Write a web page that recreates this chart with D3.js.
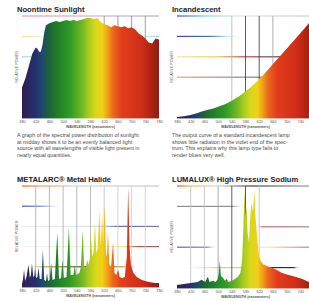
<!DOCTYPE html>
<html>
<head>
<meta charset="utf-8">
<script src="https://cdn.jsdelivr.net/npm/d3@7"></script>
<style>
  html, body { margin: 0; padding: 0; background: #fff; }
  svg { display: block; font-family: "Liberation Sans", Arial, sans-serif; }
</style>
</head>
<body>
<div id="chart"></div>
<script>
// wavelength axis (nm)
const wlTicks = [380, 420, 460, 500, 540, 580, 620, 660, 700, 740, 780];

// Noontime sunlight
const sunWl = [380, 390, 400, 410, 420, 425, 430, 435, 440, 445, 450, 460, 470, 480, 490, 500, 510, 520, 530, 540, 550, 560, 570, 580, 590, 600, 610, 620, 630, 640, 650, 660, 670, 680, 690, 700, 710, 720, 730, 740, 750, 760, 770, 780];
const sunPower = [30, 39, 51, 63, 69, 68, 65, 65, 72, 84, 91, 93, 94, 95, 94, 95, 96, 95, 96, 95, 96, 97, 98, 98, 97, 98, 94, 92, 91, 89, 91, 90, 89, 90, 88, 89, 87, 83, 81, 78, 74, 73, 78, 77];

// Incandescent
const incWl = [380, 420, 460, 500, 540, 580, 620, 660, 700, 740, 780];
const incPower = [1, 3, 7, 11, 17, 26, 38, 53, 68, 83, 99];

// Metalarc metal halide
const mhWl = [380, 383, 386, 389, 393, 399, 403, 406, 409, 413, 416, 418, 421, 425, 428, 432, 437, 441, 445, 450, 453, 456, 461, 465, 469, 476, 483, 488, 494, 498, 502, 510, 517, 522, 530, 534, 538, 548, 552, 557, 562, 567, 570, 574, 578, 581, 585, 589, 593, 597, 601, 606, 610, 614, 617, 621, 625, 628, 631, 635, 640, 646, 650, 655, 661, 665, 672, 680, 686, 690, 694, 698, 705, 715, 730, 750, 770, 780];
const mhPower = [3, 8, 17, 6, 10, 22, 9, 12, 23, 10, 11, 19, 9, 10, 19, 8, 8, 37, 7, 6, 14, 6, 7, 24, 7, 8, 54, 8, 9, 27, 9, 10, 59, 12, 12, 22, 12, 14, 20, 56, 18, 20, 27, 22, 28, 53, 30, 35, 63, 34, 38, 76, 40, 73, 42, 81, 35, 30, 56, 22, 20, 44, 14, 12, 17, 10, 9, 10, 30, 99, 40, 22, 14, 10, 7, 5, 4, 4];

// Lumalux high pressure sodium
const hpsWl = [380, 400, 420, 440, 452, 462, 470, 475, 485, 492, 498, 502, 505, 508, 514, 520, 525, 530, 540, 550, 558, 565, 570, 574, 577, 580, 583, 586, 590, 594, 597, 602, 606, 609, 613, 617, 620, 626, 632, 645, 656, 670, 685, 704, 725, 744, 765, 780];
const hpsPower = [3, 4, 5, 6, 8, 6, 11, 6, 7, 6, 8, 14, 27, 12, 10, 7, 9, 6, 7, 9, 11, 15, 27, 60, 97, 70, 80, 55, 45, 70, 83, 75, 96, 70, 54, 38, 30, 26, 23, 21, 20, 18, 15, 13, 11, 9, 6, 5];

// spectrum colouring of the fills
const specWl = [380, 420, 440, 455, 480, 520, 555, 575, 595, 615, 630, 645, 670, 730, 780];
const specColor = ["#2e1f4f", "#25306e", "#1f4a6e", "#1d5e3c", "#1f7a2a", "#2f9a25", "#6fb823", "#a8cc1e", "#d8d81a", "#f0d018", "#f0a018", "#ec6a1e", "#e23e1c", "#cf2d18", "#8e1c12"];

const titles = ["Noontime Sunlight", "Incandescent", "METALARC\u00AE Metal Halide", "LUMALUX\u00AE High Pressure Sodium"];

const sunCaption = [
  "A graph of the spectral power distribution of sunlight",
  "at midday shows it to be an evenly balanced light",
  "source with all wavelengths of visible light present in",
  "nearly equal quantities."
];
const incCaption = [
  "The output curve of a standard incandescent lamp",
  "shows little radiation in the violet end of the spec-",
  "trum. This explains why this lamp type fails to",
  "render blues very well."
];

const panels = [
  {
    wl: sunWl, power: sunPower, title: titles[0], caption: sunCaption,
    left: 22, right: 159, top: 16, bottom: 118, curve: d3.curveLinear,
    vLines: [[620, "#888"], [660, "#888"], [700, "#888"], [740, "#888"]],
    hLines: [
      [100, [[0, "#e89aa8", 1], [0.5, "#d8b0d0", 1], [1, "#b0a8e8", 1]]],
      [80, [[0, "#ece49a", 1], [0.1, "#ece49a", 0.6], [0.9, "#9ee0f0", 0.6], [1, "#8ad8f0", 1]]],
      [60, [[0, "#8fd8e8", 1], [0.1, "#8fd8e8", 0.6], [1, "#c0c0c0", 0.6]]]
    ]
  },
  {
    wl: incWl, power: incPower, title: titles[1], caption: incCaption,
    left: 177, right: 314, top: 16, bottom: 118, curve: d3.curveMonotoneX,
    vLines: [[540, "#b0b0b0"], [580, "#333"], [620, "#333"], [660, "#999"]],
    hLines: [
      [100, [[0, "#3050d0", 1], [0.22, "#80d8f0", 1], [0.45, "#e4e4e4", 1], [1, "#c8c8e8", 1]]],
      [80, [[0, "#3848c0", 1], [0.25, "#5070d0", 1], [0.36, "#a0e0f0", 0.8], [0.5, "#ffffff", 0]]],
      [60, [[0, "#f0e8a8", 1], [0.3, "#e8d040", 1], [0.48, "#d04848", 1], [0.72, "#505050", 1], [1, "#505050", 1]]],
      [40, [[0, "#f0a078", 1], [0.2, "#c09090", 1], [0.6, "#808080", 1], [1, "#808080", 1]]]
    ]
  },
  {
    wl: mhWl, power: mhPower, title: titles[2], caption: null,
    left: 22, right: 159, top: 186, bottom: 287, curve: d3.curveLinear,
    vLines: [[420, "#aaa"], [460, "#aaa"], [500, "#aaa"], [540, "#aaa"], [580, "#aaa"], [620, "#bbb"], [660, "#ccc"], [700, "#ccc"], [740, "#ccc"]],
    hLines: [
      [100, [[0, "#e86030", 1], [0.15, "#f0a060", 1], [0.4, "#d8d8d8", 1], [1, "#c8c8d0", 1]]],
      [80, [[0, "#4050d0", 1], [0.15, "#8090e0", 1], [0.3, "#ffffff", 0], [1, "#ffffff", 0]]],
      [60, [[0, "#dddddd", 0.5], [0.55, "#c0c8f0", 0.6], [0.7, "#6070c0", 1], [1, "#7080c8", 1]]],
      [40, [[0, "#dddddd", 0.3], [0.65, "#f0eaa0", 0.8], [0.75, "#e8e070", 1], [0.85, "#a06060", 1], [1, "#a06060", 1]]],
      [20, [[0, "#ffffff", 0], [0.15, "#c8b040", 1], [0.5, "#503030", 1], [0.75, "#c8b040", 1], [0.85, "#ffffff", 0]]]
    ]
  },
  {
    wl: hpsWl, power: hpsPower, title: titles[3], caption: null,
    left: 177, right: 314, top: 186, bottom: 288, curve: d3.curveLinear,
    vLines: [[420, "#bbb"], [460, "#bbb"], [500, "#999"], [540, "#333"], [580, "#333"], [620, "#bbb"]],
    hLines: [
      [100, [[0, "#e05040", 1], [0.1, "#f0c040", 1], [0.3, "#d8d8d8", 1], [0.55, "#404040", 1], [0.9, "#8090e0", 1], [1, "#8090e0", 1]]],
      [80, [[0, "#909090", 1], [0.4, "#909090", 1], [0.5, "#ffffff", 0], [1, "#ffffff", 0]]],
      [60, [[0, "#ffffff", 0], [0.58, "#ffffff", 0], [0.62, "#c07070", 1], [1, "#909090", 1]]],
      [40, [[0, "#6060c0", 1], [0.22, "#8080d0", 1], [0.3, "#ffffff", 0], [0.7, "#f0e890", 1], [1, "#a070c0", 1]]],
      [20, [[0, "#ffffff", 0], [0.3, "#e0d060", 1], [0.5, "#e0d060", 1], [0.6, "#303030", 1], [0.85, "#303030", 1], [0.9, "#ffffff", 0]]]
    ]
  }
];

const pageWidth = 309;

const svg = d3
  .select("#chart")
  .append("svg")
  .attr("width", pageWidth)
  .attr("height", 301);

const defs = svg.append("defs");

function addGradient(id, x1, x2, stops) {
  const grad = defs
    .append("linearGradient")
    .attr("id", id)
    .attr("gradientUnits", "userSpaceOnUse")
    .attr("x1", x1)
    .attr("x2", x2)
    .attr("y1", 0)
    .attr("y2", 0);
  grad
    .selectAll("stop")
    .data(stops)
    .enter()
    .append("stop")
    .attr("offset", (d) => d[0])
    .attr("stop-color", (d) => d[1])
    .attr("stop-opacity", (d) => (d[2] === undefined ? 1 : d[2]));
}

panels.forEach((p, i) => {
  const x = d3.scaleLinear().domain([380, 780]).range([p.left, p.right]);
  const y = d3.scaleLinear().domain([0, 100]).range([p.bottom, p.top]);
  const g = svg.append("g");

  // horizontal guide lines, coloured like the printed grid
  p.hLines.forEach((h, j) => {
    const id = `h${i}_${j}`;
    addGradient(id, p.left, p.right, h[1]);
    g.append("rect")
      .attr("x", p.left)
      .attr("y", y(h[0]) - 0.6)
      .attr("width", p.right - p.left)
      .attr("height", 1.2)
      .attr("fill", `url(#${id})`);
  });

  // vertical guide lines at the ticks
  g.selectAll(".vline")
    .data(p.vLines)
    .enter()
    .append("line")
    .attr("x1", (d) => x(d[0]))
    .attr("x2", (d) => x(d[0]))
    .attr("y1", p.top)
    .attr("y2", p.bottom)
    .attr("stroke", (d) => d[1])
    .attr("stroke-width", 0.8);

  // spectrum fill
  const specId = `spec${i}`;
  addGradient(
    specId,
    x(380),
    x(780),
    specWl.map((w, k) => [(w - 380) / 400, specColor[k]])
  );

  const area = d3
    .area()
    .x((d) => x(d[0]))
    .y0(y(0))
    .y1((d) => y(d[1]))
    .curve(p.curve);

  g.append("path")
    .datum(d3.zip(p.wl, p.power))
    .attr("d", area)
    .attr("fill", `url(#${specId})`);

  // thin coloured baseline
  g.append("rect")
    .attr("x", p.left)
    .attr("y", p.bottom - 0.4)
    .attr("width", p.right - p.left)
    .attr("height", 1)
    .attr("fill", `url(#${specId})`)
    .attr("opacity", 0.7);

  // x axis (labels that fall past the page edge are cut off in the print)
  const shownTicks = wlTicks.filter((t) => x(t) + 4 <= pageWidth);
  const xAxis = g
    .append("g")
    .attr("transform", `translate(0,${p.bottom})`)
    .call(d3.axisBottom(x).tickValues(shownTicks).tickSize(0).tickPadding(2.6));
  xAxis.select(".domain").remove();
  xAxis
    .selectAll("text")
    .attr("font-family", "Liberation Sans, Arial, sans-serif")
    .attr("font-size", 3.8)
    .attr("fill", "#555");

  g.append("text")
    .attr("x", (p.left + p.right) / 2)
    .attr("y", p.bottom + 9.6)
    .attr("text-anchor", "middle")
    .attr("font-size", 3.6)
    .attr("font-weight", "bold")
    .attr("fill", "#555")
    .text("WAVELENGTH (nanometers)");

  // y axis label
  g.append("text")
    .attr(
      "transform",
      `translate(${p.left - 4},${(p.top + p.bottom) / 2}) rotate(-90)`
    )
    .attr("text-anchor", "middle")
    .attr("font-size", 3.6)
    .attr("fill", "#555")
    .text("RELATIVE POWER");

  // title
  g.append("text")
    .attr("x", p.left - 5)
    .attr("y", p.top - 4)
    .attr("font-size", 7.6)
    .attr("font-weight", "bold")
    .attr("fill", "#222")
    .text(p.title);

  // caption
  if (p.caption) {
    g.selectAll(".cap")
      .data(p.caption)
      .enter()
      .append("text")
      .attr("x", p.left - 5)
      .attr("y", (d, k) => p.bottom + 19.3 + k * 6.5)
      .attr("font-size", 5.3)
      .attr("fill", "#4a4a4a")
      .text((d) => d);
  }
});
</script>
</body>
</html>
